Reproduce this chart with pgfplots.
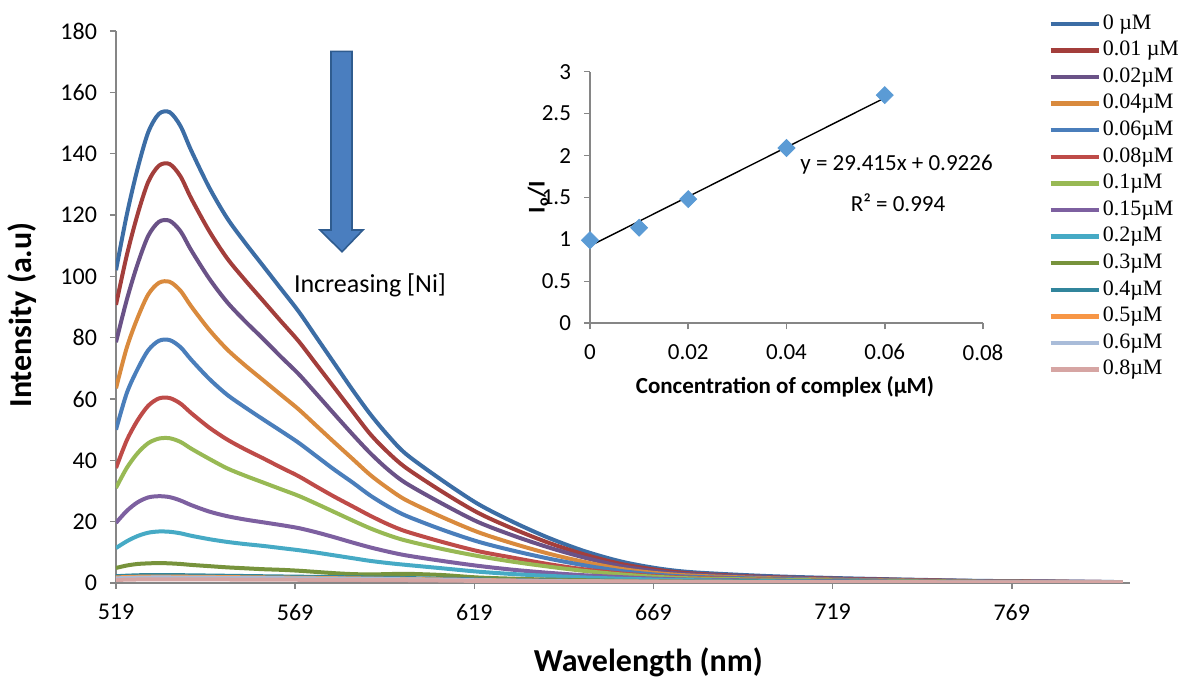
\documentclass[border=0pt]{standalone}
\usepackage{fontspec}
\setmainfont{Carlito}
\newfontfamily\legfont{Liberation Serif}
\usepackage{pgfplots}
\usepackage{pgfplotstable}
\pgfplotsset{compat=1.18}

\definecolor{axisgray}{HTML}{868686}
\definecolor{c0}{HTML}{3C6DA5}
\definecolor{c1}{HTML}{A33E3B}
\definecolor{c2}{HTML}{6A5287}
\definecolor{c3}{HTML}{D98A3D}
\definecolor{c4}{HTML}{4A7EBB}
\definecolor{c5}{HTML}{BE4B48}
\definecolor{c6}{HTML}{98B954}
\definecolor{c7}{HTML}{7D60A0}
\definecolor{c8}{HTML}{46AAC5}
\definecolor{c9}{HTML}{77933C}
\definecolor{c10}{HTML}{31859C}
\definecolor{c11}{HTML}{F79646}
\definecolor{c12}{HTML}{A9BCD9}
\definecolor{c13}{HTML}{D6A5A3}
\definecolor{mkblue}{HTML}{5B9BD5}
\definecolor{arrowblue}{HTML}{4A7EBF}
\definecolor{arrowdark}{HTML}{2F5C8F}

\pgfplotstableread{
x    s0    s1     s2    s3    s4    s5    s6    s7    s8    s9
519  102   90.7   78.5  63.5  50.0  37.5  31.0  19.6  11.4  4.9
522  120   106.8  92.3  76.7  61.9  46.5  37.5  23.5  13.6  5.7
525  135   120.1  103.9 86.4  69.7  53.0  42.3  26.3  15.3  6.2
528  147   130.8  113.2 94.1  75.9  57.8  45.6  27.9  16.4  6.4
531  153   136.1  117.8 97.9  79.0  60.2  47.1  28.3  16.8  6.5
534  153.5 136.6  118.1 98.2  79.2  60.3  47.2  28.0  16.7  6.4
537  149   132.6  114.7 95.3  76.9  58.5  46.0  26.9  16.2  6.2
540  141   125.4  108.5 90.2  72.8  55.4  43.8  25.4  15.4  5.9
545  129   114.8  99.3  82.6  66.6  50.7  40.5  23.3  14.3  5.5
550  119   105.9  91.6  76.2  61.4  46.8  37.4  21.8  13.4  5.1
555  111   98.8   85.4  71.0  57.3  43.6  35.0  20.7  12.7  4.8
560  103.5 92.1   79.7  66.2  53.4  40.7  32.8  19.8  12.1  4.5
565  96    85.4   73.8  61.4  49.6  37.7  30.6  18.9  11.4  4.3
570  88.5  78.8   68.1  56.6  45.7  34.8  28.4  17.9  10.7  4.0
575  80    71.2   61.6  51.2  41.3  31.4  25.8  16.5  9.9   3.6
580  71.5  63.6   55.0  45.8  36.9  28.1  23.1  14.9  9.0   3.2
585  63    56.0   48.5  40.5  32.8  25.0  20.4  13.2  8.1   2.9
590  55    48.5   42.3  35.2  28.5  21.9  17.8  11.6  7.2   2.8
595  48    42.5   36.9  30.8  24.9  19.1  15.6  10.2  6.5   2.9
600  42    37.5   32.5  27.0  21.9  16.8  13.8  9.0   5.9   3.0
610  33.5  29.8   25.9  21.5  17.4  13.4  11.1  7.2   4.8   2.6
620  25.8  22.9   19.9  16.6  13.5  10.4  8.8   5.6   3.7   1.8
630  19.8  17.6   15.4  12.8  10.5  8.2   6.9   4.3   2.9   1.4
640  14.6  13.0   11.5  9.5   7.9   6.1   5.3   3.3   2.3   1.1
650  10.3  9.2    8.2   6.8   5.7   4.4   3.9   2.5   1.8   0.9
660  7.0   6.2    5.5   4.6   3.9   3.1   2.8   1.9   1.4   0.7
670  4.8   4.3    3.8   3.2   2.7   2.2   2.0   1.4   1.1   0.6
680  3.5   3.1    2.8   2.4   2.0   1.7   1.5   1.1   0.9   0.5
700  2.3   2.0    1.9   1.6   1.4   1.2   1.1   0.8   0.6   0.4
720  1.6   1.4    1.3   1.1   1.0   0.8   0.8   0.6   0.45  0.35
740  1.1   1.0    0.9   0.8   0.7   0.6   0.6   0.45  0.35  0.3
760  0.7   0.6    0.6   0.5   0.5   0.4   0.4   0.35  0.25  0.25
780  0.5   0.45   0.4   0.35  0.35  0.3   0.3   0.25  0.2   0.2
800  0.3   0.27   0.3   0.25  0.25  0.2   0.2   0.2   0.15  0.15
}\spectra

\begin{document}
\begin{tikzpicture}[x=1pt,y=1pt]
\useasboundingbox (-58pt,-48pt) rectangle (531pt,291.5pt);
\begin{axis}[
  at={(0pt,0pt)}, anchor=south west,
  scale only axis, width=507pt, height=276pt,
  xmin=519, xmax=802, ymin=0, ymax=180,
  axis lines=left,
  axis line style={draw=axisgray, line width=0.8pt, -},
  xtick={519,569,619,669,719,769},
  ytick={0,20,40,60,80,100,120,140,160,180},
  tick align=outside, major tick length=3pt,
  tick style={axisgray, line width=0.8pt},
  ticklabel style={font=\fontsize{12}{12}\selectfont},
  /pgf/number format/assume math mode=true,
  x tick label style={yshift=-4pt},
  y tick label style={xshift=-3pt},
  xlabel={\textbf{Wavelength (nm)}},
  ylabel={\textbf{Intensity (a.u)}},
  xlabel style={font=\fontsize{16}{16}\selectfont, at={(axis description cs:0.525,-0.143)}, anchor=center},
  ylabel style={font=\fontsize{16}{16}\selectfont, at={(axis description cs:-0.0927,0.4855)}, anchor=center},
  every axis plot/.append style={line width=2pt, smooth},
  legend style={at={(0.9132,1.045)}, anchor=north west, draw=none, fill=none,
    font=\legfont\fontsize{11}{11}\selectfont, row sep=0pt, column sep=0pt,
    nodes={inner ysep=0pt, inner xsep=1pt, text height=9.3pt, text depth=4pt}},
  legend cell align=left,
  legend image code/.code={\draw[#1, line width=2.2pt] (0pt,0pt) -- (24pt,0pt);},
]
\addplot[c0] table[x=x, y=s0] {\spectra};
\addlegendentry{0 µM}
\addplot[c1] table[x=x, y=s1] {\spectra};
\addlegendentry{0.01 µM}
\addplot[c2] table[x=x, y=s2] {\spectra};
\addlegendentry{0.02µM}
\addplot[c3] table[x=x, y=s3] {\spectra};
\addlegendentry{0.04µM}
\addplot[c4] table[x=x, y=s4] {\spectra};
\addlegendentry{0.06µM}
\addplot[c5] table[x=x, y=s5] {\spectra};
\addlegendentry{0.08µM}
\addplot[c6] table[x=x, y=s6] {\spectra};
\addlegendentry{0.1µM}
\addplot[c7] table[x=x, y=s7] {\spectra};
\addlegendentry{0.15µM}
\addplot[c8] table[x=x, y=s8] {\spectra};
\addlegendentry{0.2µM}
\addplot[c9] table[x=x, y=s9] {\spectra};
\addlegendentry{0.3µM}
\addplot[c10] coordinates {(519,2.2) (530,2.6) (560,2.2) (600,1.6) (640,0.8) (700,0.4) (800,0.2)};
\addlegendentry{0.4µM}
\addplot[c11] coordinates {(519,1.8) (530,2.1) (560,1.8) (600,1.3) (640,0.7) (700,0.3) (800,0.2)};
\addlegendentry{0.5µM}
\addplot[c12] coordinates {(519,1.5) (530,1.8) (560,1.6) (600,1.2) (640,0.6) (700,0.3) (800,0.2)};
\addlegendentry{0.6µM}
\addplot[c13] coordinates {(519,1.0) (530,1.2) (560,1.1) (600,0.9) (640,0.5) (700,0.3) (800,0.2)};
\addlegendentry{0.8µM}
\end{axis}

\begin{axis}[
  at={(237pt,129.85pt)}, anchor=south west,
  scale only axis, width=196.5pt, height=125.8pt,
  xmin=0, xmax=0.08, ymin=0, ymax=3,
  clip=false,
  axis lines=left,
  axis line style={draw=axisgray, line width=0.8pt, -},
  scaled x ticks=false, scaled y ticks=false,
  xtick={0,0.02,0.04,0.06,0.08}, xticklabels={0,0.02,0.04,0.06,0.08},
  ytick={0,0.5,1,1.5,2,2.5,3}, yticklabels={0,0.5,1,1.5,2,2.5,3},
  tick align=outside, major tick length=3pt,
  tick style={axisgray, line width=0.8pt},
  ticklabel style={font=\fontsize{11.5}{11.5}\selectfont},
  x tick label style={yshift=-4pt},
  y tick label style={xshift=-3pt},
  xlabel={\textbf{Concentration of complex (µM)}},
  ylabel={\textbf{I\textsubscript{o}/I}},
  xlabel style={font=\fontsize{11.5}{11.5}\selectfont, at={(axis description cs:0.496,-0.253)}, anchor=center},
  ylabel style={font=\fontsize{12}{12}\selectfont, at={(axis description cs:-0.132,0.502)}, anchor=center},
]
\addplot[black, line width=0.7pt] coordinates {(0,0.9226) (0.06,2.6875)};
\addplot[only marks, mark=square*, mark size=3pt, mark options={rotate=45, fill=mkblue, draw=mkblue}]
  coordinates {(0,0.99) (0.01,1.14) (0.02,1.48) (0.04,2.09) (0.06,2.72)};
\node[font=\fontsize{11.5}{11.5}\selectfont] at (axis cs:0.0624,1.887) {y = 29.415x + 0.9226};
\node[font=\fontsize{11.5}{11.5}\selectfont] at (axis cs:0.0627,1.434) {R² = 0.994};
\end{axis}

\fill[arrowblue, draw=arrowdark, line width=0.8pt]
  (107.5pt,265.8pt) -- (118pt,265.8pt) -- (118pt,176.5pt) -- (123.5pt,176.5pt) -- (113pt,165.6pt)
  -- (102pt,176.5pt) -- (107.5pt,176.5pt) -- cycle;
\node[font=\fontsize{13}{13}\selectfont] at (127pt,149pt) {Increasing [Ni]};
\end{tikzpicture}
\end{document}
